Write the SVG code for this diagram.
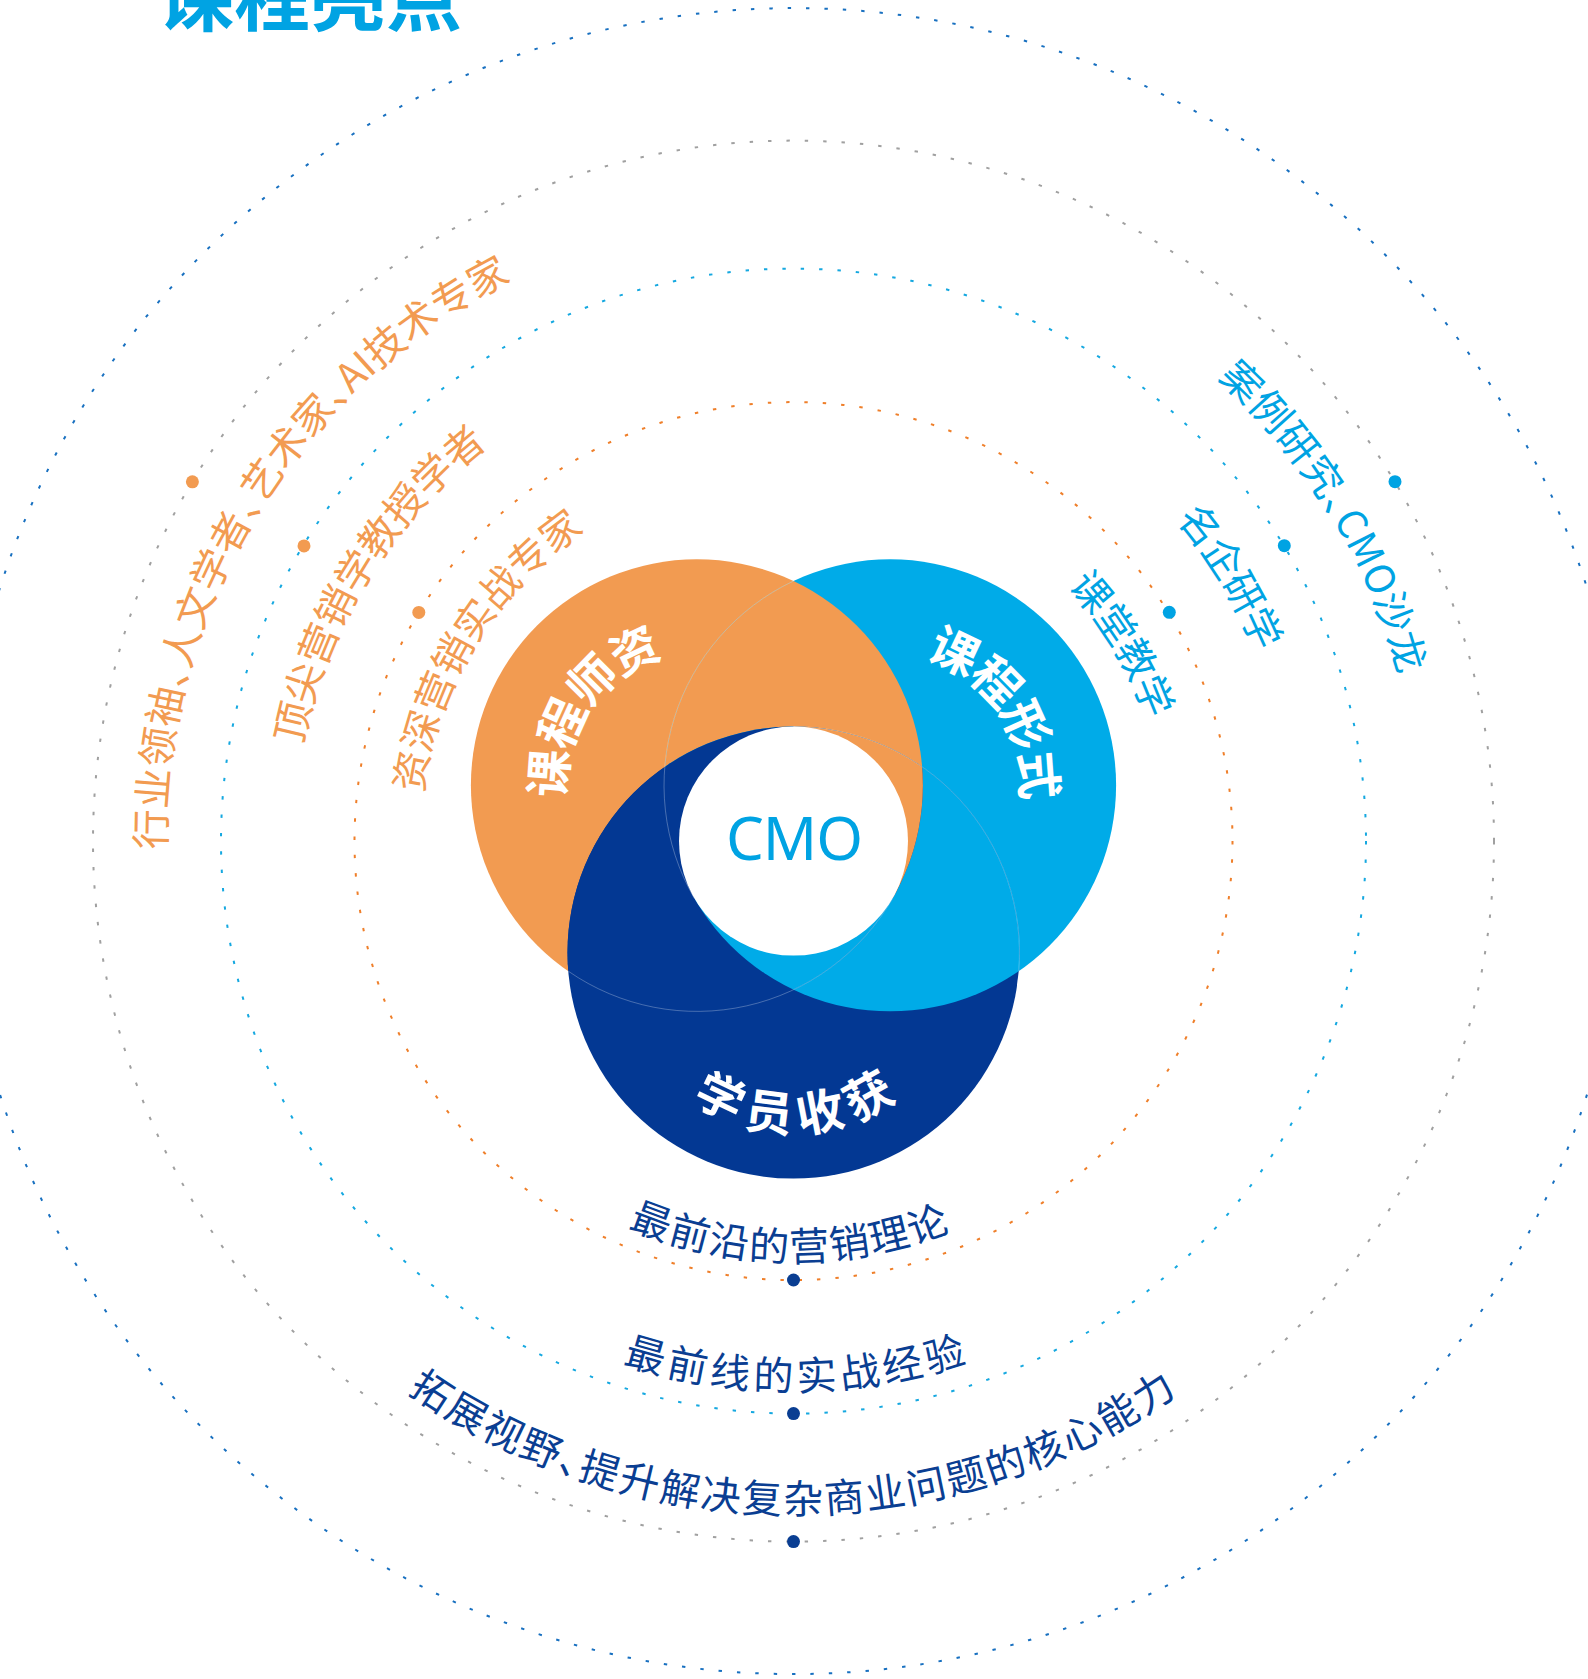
<svg xmlns="http://www.w3.org/2000/svg" width="1588" height="1679" viewBox="0 0 1588 1679">
<style>
.ring{fill:none;stroke-width:2;stroke-dasharray:3.4 15}
.side{font-family:"Noto Sans CJK SC",sans-serif;font-size:40px;text-anchor:middle;font-feature-settings:"halt"}
.bot{font-family:"Noto Sans CJK SC",sans-serif;font-size:40px;fill:#0A3E92;text-anchor:middle;font-feature-settings:"halt"}
.lbl{font-family:"Noto Sans CJK SC",sans-serif;font-size:48px;font-weight:700;fill:#fff;text-anchor:middle}
.seam{fill:none;stroke:#fff;stroke-opacity:.35;stroke-width:.8}
.or{fill:#F29B51}.bl{fill:#00ABE8}.dk{fill:#033893}
</style>
<defs>
<clipPath id="cO"><circle cx="696.9" cy="785.35" r="226"/></clipPath>
<clipPath id="cB"><circle cx="890.1" cy="785.35" r="226"/></clipPath>
<clipPath id="cD"><circle cx="793.5" cy="952.6" r="226"/></clipPath>
<clipPath id="sR"><polygon points="793.5,841.1 793.5,500 1200,500 1200,1075.8"/></clipPath>
<clipPath id="sB"><polygon points="793.5,841.1 1200,1075.8 1200,1300 387,1300 387,1075.8"/></clipPath>
<path id="pL1" d="M242.8,1142.6 A627.8,627.8 0 0 1 807.7,213.5"/>
<path id="pL2" d="M353.4,1078.05 A499.8,499.8 0 0 1 808.3,341.5"/>
<path id="pL3" d="M464.4,1018.3 A373.8,373.8 0 0 1 804.6,467.5"/>
<path id="pR1" d="M778.2,213.5 A627.8,627.8 0 0 1 1344.7,1141.6"/>
<path id="pR2" d="M783.0,341.4 A499.8,499.8 0 0 1 1231.5,1081.9"/>
<path id="pR3" d="M787.0,467.4 A373.8,373.8 0 0 1 1120.4,1022.3"/>
<path id="pB1" d="M427.8,1048.0 A420.2,420.2 0 0 0 1155.6,1054.4"/>
<path id="pB2" d="M319.55,1119.2 A549.5,549.5 0 0 0 1271.3,1112.5"/>
<path id="pB3" d="M210.9,1177.45 A672.7,672.7 0 0 0 1376.1,1177.45"/>
<path id="pLO" d="M613.7,886.3 A130.8,130.8 0 0 1 761.3,671.5"/>
<path id="pLB" d="M825.7,671.5 A130.8,130.8 0 0 1 973.3,886.3"/>
<path id="pLD" d="M615.3,969.8 A179,179 0 0 0 971.95,966.6"/>
</defs>
<rect width="1588" height="1679" fill="#fff"/>

<g id="title">
<text x="158" y="25" font-family="'Noto Sans CJK SC',sans-serif" font-size="76" font-weight="700" fill="#00A3E3">课程亮点</text>
</g>

<g id="rings">
<circle class="ring" cx="793.5" cy="841.1" r="833" stroke="#1870C0"/>
<circle class="ring" cx="793.5" cy="841.1" r="700.5" stroke="#A0A0A0"/>
<circle class="ring" cx="793.5" cy="841.1" r="572.5" stroke="#15A8E0"/>
<circle class="ring" cx="793.5" cy="841.1" r="439" stroke="#EF7F2A"/>
</g>

<g id="venn">
<circle class="or" cx="696.9" cy="785.35" r="226"/>
<circle class="bl" cx="890.1" cy="785.35" r="226"/>
<circle class="dk" cx="793.5" cy="952.6" r="226"/>
<circle class="or" cx="890.1" cy="785.35" r="226" clip-path="url(#cO)"/>
<circle class="bl" cx="793.5" cy="952.6" r="226" clip-path="url(#cB)"/>
<circle class="dk" cx="696.9" cy="785.35" r="226" clip-path="url(#cD)"/>
<g clip-path="url(#sR)"><g clip-path="url(#cD)"><circle class="or" cx="890.1" cy="785.35" r="226" clip-path="url(#cO)"/></g></g>
<g clip-path="url(#sB)"><g clip-path="url(#cO)"><circle class="bl" cx="793.5" cy="952.6" r="226" clip-path="url(#cB)"/></g></g>
<path class="seam" d="M793.5,581.0 A226,226 0 0 0 694.3,898.35"/>
<path class="seam" d="M1018.7,971.2 A226,226 0 0 0 793.5,726.6"/>
<path class="seam" d="M568.3,971.2 A226,226 0 0 0 892.7,898.35"/>
</g>

<g id="node-cmo">
<circle cx="793.5" cy="841.1" r="114.5" fill="#fff"/>
<text x="794" y="860" font-family="'Noto Sans',sans-serif" font-size="60" fill="#00A3E3" text-anchor="middle" letter-spacing="-1">CMO</text>
</g>

<g id="node-teachers">
<text class="lbl" letter-spacing="-2"><textPath href="#pLO" startOffset="50%">课程师资</textPath></text>
</g>
<g id="node-format">
<text class="lbl" letter-spacing="-2"><textPath href="#pLB" startOffset="50%">课程形式</textPath></text>
</g>
<g id="node-gain">
<text class="lbl" letter-spacing="8.7"><textPath href="#pLD" startOffset="270">学员收获</textPath></text>
</g>

<g id="teachers-items" fill="#F29B51">
<circle cx="192.4" cy="481.8" r="6.5"/>
<circle cx="304" cy="545.9" r="6.5"/>
<circle cx="418.8" cy="612.4" r="6.5"/>
<text class="side" letter-spacing="0.3"><textPath href="#pL1" startOffset="50%">行业领袖、人文学者、艺术家、AI技术专家</textPath></text>
<text class="side" letter-spacing="0"><textPath href="#pL2" startOffset="50%">顶尖营销学教授学者</textPath></text>
<text class="side" letter-spacing="-0.3"><textPath href="#pL3" startOffset="50%">资深营销实战专家</textPath></text>
</g>

<g id="format-items" fill="#00A3E3">
<circle cx="1395" cy="481.7" r="6.5"/>
<circle cx="1284.3" cy="545.7" r="6.5"/>
<circle cx="1169.3" cy="612.3" r="6.5"/>
<text class="side" letter-spacing="0.5"><textPath href="#pR1" startOffset="50%">案例研究、CMO沙龙</textPath></text>
<text class="side" letter-spacing="-1"><textPath href="#pR2" startOffset="50%">名企研学</textPath></text>
<text class="side" letter-spacing="-1"><textPath href="#pR3" startOffset="50%">课堂教学</textPath></text>
</g>

<g id="gain-items" fill="#0A3E92">
<circle cx="793.5" cy="1280" r="6.5"/>
<circle cx="793.5" cy="1413.6" r="6.5"/>
<circle cx="793.5" cy="1541.6" r="6.5"/>
<text class="bot" letter-spacing="1.6"><textPath href="#pB1" startOffset="50%">最前沿的营销理论</textPath></text>
<text class="bot" letter-spacing="4.4"><textPath href="#pB2" startOffset="50%">最前线的实战经验</textPath></text>
<text class="bot" letter-spacing="2.1"><textPath href="#pB3" startOffset="50%">拓展视野、提升解决复杂商业问题的核心能力</textPath></text>
</g>
</svg>
